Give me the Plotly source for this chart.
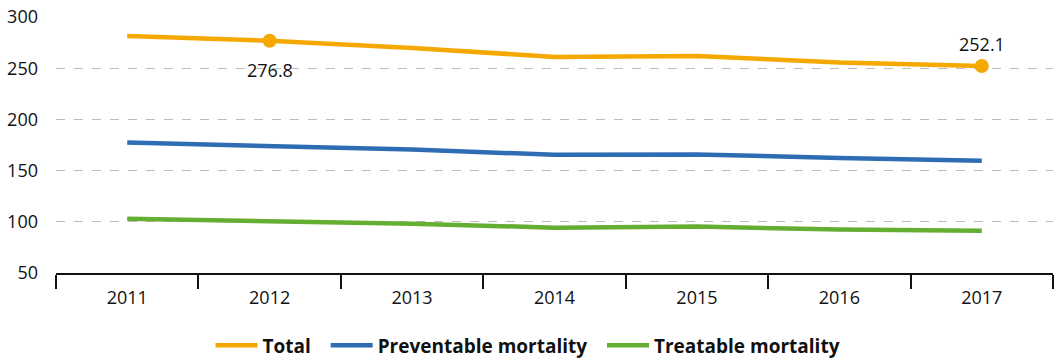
import plotly.graph_objs as go

years = ['2011', '2012', '2013', '2014', '2015', '2016', '2017']
total = [281.5, 276.8, 269.8, 261.0, 262.0, 255.5, 252.1]
preventable = [177.5, 174.5, 170.5, 165.5, 165.8, 162.3, 159.7]
treatable = [103.0, 101.0, 98.2, 94.3, 95.3, 92.5, 91.2]

labelled = [1, 6]  # points with a marker and value label

orange = '#F5A800'
blue = '#2E6DB4'
green = '#64AE32'

font_family = 'Open Sans, Noto Sans, sans-serif'
gap = '&nbsp;&nbsp;'

trace_total = go.Scatter(x=years, y=total, name='<b>Total</b>' + gap, mode='lines',
                         line=dict(color=orange, width=4.5))
trace_prev = go.Scatter(x=years, y=preventable, name='<b>Preventable mortality</b>' + gap, mode='lines',
                        line=dict(color=blue, width=4.5))
trace_treat = go.Scatter(x=years, y=treatable, name='<b>Treatable mortality</b>', mode='lines',
                         line=dict(color=green, width=4.5))

# dots on the highlighted points
trace_dots = go.Scatter(x=[years[i] for i in labelled], y=[total[i] for i in labelled],
                        mode='markers', showlegend=False, hoverinfo='skip',
                        marker=dict(size=14, color=orange, line=dict(width=0)))

# value labels: first one below the dot, last one above
# (category axis -> annotation x given as the category index)
annotations = []
for n, i in enumerate(labelled):
    below = n == 0
    annotations.append(dict(x=i, y=total[i], xref='x', yref='y',
                            text='%.1f' % total[i], showarrow=False,
                            xanchor='center', yanchor='top' if below else 'bottom',
                            yshift=-15 if below else 8,
                            font=dict(size=18, color='#111')))

layout = go.Layout(
    width=1056, height=358,
    margin=dict(l=56, r=3, t=17, b=85),
    paper_bgcolor='white', plot_bgcolor='white',
    font=dict(family=font_family, size=18, color='#111'),
    showlegend=True,
    legend=dict(orientation='h', x=0.5, xanchor='center', xref='container',
                y=0.035, yanchor='middle', yref='container', itemwidth=42,
                font=dict(size=19, color='#111'), traceorder='normal'),
    annotations=annotations,
    xaxis=dict(type='category', range=[-0.5, 6.5], showgrid=False, showline=True,
               linecolor='#111', linewidth=2,
               ticks='outside', tickson='boundaries', ticklen=14, tickwidth=2, tickcolor='#111',
               tickfont=dict(size=18), ticklabelstandoff=7, automargin=False),
    yaxis=dict(range=[50, 300], dtick=50, showgrid=True, gridcolor='#BDBDBD', griddash='dash',
               gridwidth=1, zeroline=False, showline=False, ticks='', tickfont=dict(size=18),
               ticklabelstandoff=17, automargin=False),
)

fig = go.Figure(data=[trace_total, trace_prev, trace_treat, trace_dots], layout=layout)
fig.write_html('out.html', config={'displayModeBar': False},
               post_script="document.body.style.margin='0';")
